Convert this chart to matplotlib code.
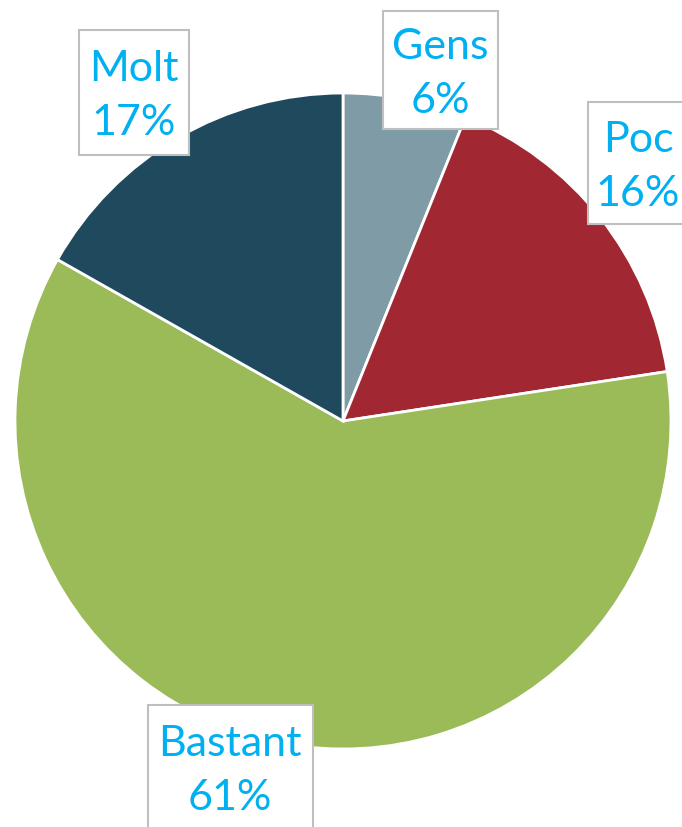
import matplotlib
matplotlib.use("Agg")
import matplotlib.pyplot as plt
from matplotlib.patches import Rectangle

categories = ["Gens", "Poc", "Bastant", "Molt"]
values = [6.1, 16.49, 60.6, 16.81]
pct_labels = ["6%", "16%", "61%", "17%"]
colors = ["#7F9BA6", "#A12833", "#9BBB59", "#1F4A5E"]

# label box layout (pixel coords: center x, center y, width, height)
box_layout = [
    (440, 70, 115, 118),
    (638, 163, 100, 122),
    (230, 767, 165, 124),
    (134, 92, 110, 125),
]

W, H = 682, 827
fig = plt.figure(figsize=(W / 100, H / 100), dpi=100)
ax = fig.add_axes([0, 0, 1, 1])

ax.pie(values, colors=colors, startangle=-90, counterclock=True,
       center=(343, 421), radius=328, frame=True,
       wedgeprops=dict(edgecolor="white", linewidth=2.0))
ax.set_xlim(0, W)
ax.set_ylim(H, 0)
ax.set_aspect("equal")
ax.axis("off")

for cat, pct, (cx, cy, bw, bh) in zip(categories, pct_labels, box_layout):
    ax.add_patch(Rectangle((cx - bw / 2, cy - bh / 2), bw, bh,
                           facecolor="white", edgecolor="#BFBFBF",
                           linewidth=1.5, zorder=5))
    ax.text(cx, cy + 4, f"{cat}\n{pct}", ha="center", va="center",
            fontsize=31, family="Lato", color="#00B0F0",
            linespacing=1.5, zorder=6)

fig.savefig("out.png", dpi=100)
